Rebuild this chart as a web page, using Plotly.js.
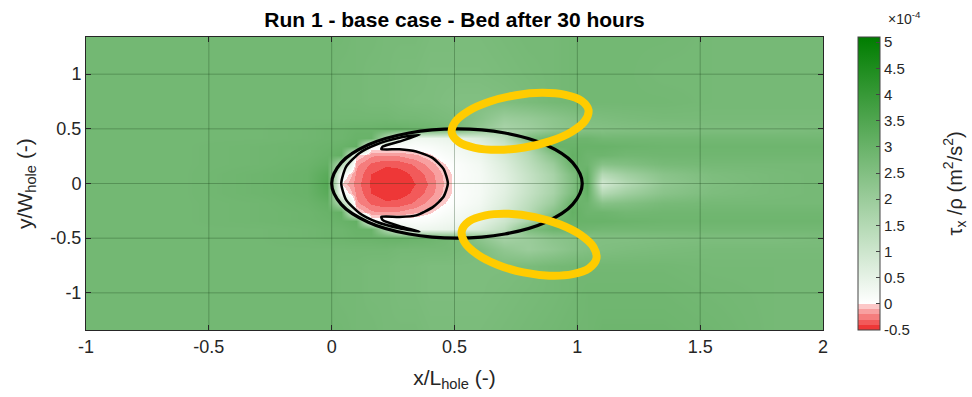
<!DOCTYPE html>
<html>
<head>
<meta charset="utf-8">
<script src="https://cdn.plot.ly/plotly-3.0.1.min.js"></script>
<style>html,body{margin:0;padding:0;background:#fff;}#chart{width:972px;height:397px;}</style>
</head>
<body>
<div id="chart"></div>
<script>
// ---- grid coordinates (x/L_hole, y/W_hole) ----
const xCoords = [-1, -0.6, -0.3, -0.1, -0.02, 0.04, 0.1, 0.16, 0.22, 0.28, 0.34, 0.4, 0.46, 0.52, 0.6, 0.7, 0.8, 0.9, 0.98, 1.04, 1.1, 1.2, 1.35, 1.55, 1.8, 2.0];
const yCoords = [-1.35, -1.0, -0.75, -0.6, -0.5, -0.42, -0.34, -0.26, -0.18, -0.09, 0, 0.09, 0.18, 0.26, 0.34, 0.42, 0.5, 0.6, 0.75, 1.0, 1.35];

// ---- tau_x / rho in units of 1e-4 m^2/s^2 (rows follow yCoords) ----
const tauX = [
  [2.8, 2.8, 2.8, 2.8, 2.8, 2.8, 2.75, 2.75, 2.7, 2.7, 2.7, 2.65, 2.65, 2.65, 2.65, 2.7, 2.75, 2.8, 2.85, 2.85, 2.9, 2.9, 2.9, 2.85, 2.75, 2.75],
  [2.8, 2.8, 2.8, 2.8, 2.8, 2.75, 2.75, 2.7, 2.7, 2.65, 2.65, 2.6, 2.6, 2.6, 2.6, 2.65, 2.7, 2.75, 2.8, 2.85, 2.85, 2.85, 2.85, 2.8, 2.75, 2.75],
  [2.8, 2.8, 2.8, 2.8, 2.8, 2.75, 2.75, 2.7, 2.7, 2.65, 2.65, 2.6, 2.6, 2.6, 2.6, 2.6, 2.65, 2.75, 2.8, 2.8, 2.8, 2.8, 2.8, 2.75, 2.75, 2.75],
  [2.8, 2.8, 2.8, 2.8, 2.8, 2.8, 2.8, 2.8, 2.8, 2.75, 2.75, 2.75, 2.75, 2.7, 2.6, 2.2, 2.0, 2.2, 2.4, 2.5, 2.55, 2.6, 2.65, 2.7, 2.7, 2.7],
  [2.8, 2.8, 2.8, 2.85, 2.9, 2.9, 2.95, 2.95, 3.0, 3.0, 2.95, 2.9, 2.8, 2.7, 2.3, 1.8, 2.0, 2.3, 2.4, 2.45, 2.5, 2.5, 2.55, 2.6, 2.6, 2.65],
  [2.8, 2.8, 2.8, 2.85, 2.9, 2.9, 3.0, 3.0, 1.6, 0.5, 0.3, 0.35, 0.4, 0.5, 0.75, 1.3, 2.6, 2.9, 2.9, 2.85, 2.8, 2.8, 2.8, 2.8, 2.8, 2.8],
  [2.8, 2.8, 2.85, 2.9, 2.95, 3.0, 3.1, 0.1, 0.12, 0.1, 0.1, 0.15, 0.25, 0.3, 0.5, 1.0, 1.7, 3.0, 3.0, 3.0, 3.0, 2.95, 2.9, 2.9, 2.9, 2.9],
  [2.8, 2.8, 2.85, 2.9, 3.0, 3.1, 0.02, -0.18, -0.2, -0.18, -0.12, -0.02, 0.12, 0.2, 0.35, 0.85, 1.45, 2.4, 3.1, 2.9, 2.9, 2.8, 2.85, 2.85, 2.85, 2.85],
  [2.8, 2.8, 2.85, 2.95, 3.1, 1.5, -0.17, -0.32, -0.38, -0.36, -0.28, -0.15, 0.0, 0.1, 0.25, 0.7, 1.3, 2.0, 3.0, 2.9, 2.4, 2.5, 2.7, 2.75, 2.75, 2.75],
  [2.8, 2.8, 2.9, 3.0, 3.3, 0.2, -0.22, -0.4, -0.47, -0.45, -0.37, -0.25, -0.06, 0.08, 0.2, 0.6, 1.15, 1.75, 2.6, 3.1, 1.5, 1.9, 2.35, 2.6, 2.7, 2.75],
  [2.8, 2.8, 2.9, 3.0, 3.4, 0.0, -0.25, -0.42, -0.5, -0.48, -0.4, -0.28, -0.08, 0.1, 0.2, 0.55, 1.1, 1.7, 2.5, 3.2, 0.9, 1.5, 2.2, 2.55, 2.7, 2.75],
  [2.8, 2.8, 2.9, 3.0, 3.3, 0.2, -0.22, -0.4, -0.47, -0.45, -0.37, -0.25, -0.06, 0.08, 0.2, 0.6, 1.15, 1.75, 2.6, 3.1, 1.5, 1.9, 2.35, 2.6, 2.7, 2.75],
  [2.8, 2.8, 2.85, 2.95, 3.1, 1.5, -0.17, -0.32, -0.38, -0.36, -0.28, -0.15, 0.0, 0.1, 0.25, 0.7, 1.3, 2.0, 3.0, 2.9, 2.4, 2.5, 2.7, 2.75, 2.75, 2.75],
  [2.8, 2.8, 2.85, 2.9, 3.0, 3.1, 0.02, -0.18, -0.2, -0.18, -0.12, -0.02, 0.12, 0.2, 0.35, 0.85, 1.45, 2.4, 3.1, 2.9, 2.9, 2.8, 2.85, 2.85, 2.85, 2.85],
  [2.8, 2.8, 2.85, 2.9, 2.95, 3.0, 3.1, 0.1, 0.12, 0.1, 0.1, 0.15, 0.25, 0.3, 0.5, 1.0, 1.7, 3.0, 3.0, 3.0, 3.0, 2.95, 2.9, 2.9, 2.9, 2.9],
  [2.8, 2.8, 2.8, 2.85, 2.9, 2.9, 3.0, 3.0, 1.6, 0.5, 0.3, 0.35, 0.4, 0.5, 0.75, 1.3, 2.6, 2.9, 2.9, 2.9, 2.8, 2.8, 2.8, 2.8, 2.8, 2.8],
  [2.8, 2.8, 2.8, 2.85, 2.9, 2.9, 2.95, 2.95, 3.0, 3.0, 2.95, 2.9, 2.8, 2.7, 2.2, 1.7, 1.9, 2.2, 2.35, 2.45, 2.45, 2.5, 2.55, 2.6, 2.6, 2.65],
  [2.8, 2.8, 2.8, 2.8, 2.8, 2.8, 2.8, 2.8, 2.8, 2.75, 2.75, 2.7, 2.65, 2.6, 2.4, 2.0, 2.1, 2.3, 2.45, 2.55, 2.6, 2.65, 2.7, 2.7, 2.7, 2.7],
  [2.8, 2.8, 2.8, 2.8, 2.8, 2.75, 2.75, 2.7, 2.7, 2.65, 2.6, 2.6, 2.55, 2.5, 2.5, 2.55, 2.65, 2.75, 2.8, 2.8, 2.8, 2.8, 2.8, 2.75, 2.75, 2.75],
  [2.8, 2.8, 2.8, 2.8, 2.8, 2.75, 2.75, 2.7, 2.7, 2.65, 2.65, 2.6, 2.6, 2.6, 2.6, 2.65, 2.7, 2.75, 2.8, 2.8, 2.8, 2.8, 2.75, 2.75, 2.75, 2.75],
  [2.8, 2.8, 2.8, 2.8, 2.8, 2.8, 2.75, 2.75, 2.7, 2.7, 2.7, 2.65, 2.65, 2.65, 2.65, 2.7, 2.75, 2.75, 2.8, 2.8, 2.8, 2.8, 2.8, 2.75, 2.75, 2.75]
];

// ---- hole outline (bed contour) ----
const holeX = [1.02, 0.981, 0.871, 0.705, 0.51, 0.315, 0.149, 0.039, 0.0, 0.039, 0.149, 0.315, 0.51, 0.705, 0.871, 0.981, 1.02];
const holeY = [0, 0.191, 0.354, 0.462, 0.5, 0.462, 0.354, 0.191, 0, -0.191, -0.354, -0.462, -0.5, -0.462, -0.354, -0.191, 0];

// ---- zero contour of tau_x ----
const zeroX = [0.358, 0.276, 0.182, 0.114, 0.059, 0.039, 0.059, 0.114, 0.182, 0.276, 0.358, 0.276, 0.208, 0.202, 0.276, 0.344, 0.412, 0.456, 0.473, 0.456, 0.412, 0.344, 0.276, 0.202, 0.208, 0.276, 0.358];
const zeroY = [0.445, 0.418, 0.357, 0.280, 0.155, 0.0, -0.150, -0.272, -0.350, -0.410, -0.440, -0.390, -0.335, -0.305, -0.307, -0.292, -0.216, -0.119, 0.0, 0.132, 0.232, 0.293, 0.314, 0.314, 0.338, 0.384, 0.445];

// ---- highlighted regions (yellow rings) ----
const ringUpX = [1.0455, 1.0310, 0.9764, 0.8899, 0.7847, 0.6769, 0.5828, 0.5166, 0.4887, 0.5032, 0.5578, 0.6443, 0.7495, 0.8573, 0.9514, 1.0176, 1.0455];
const ringUpY = [0.6721, 0.5728, 0.4728, 0.3874, 0.3297, 0.3082, 0.3264, 0.3816, 0.4651, 0.5644, 0.6644, 0.7498, 0.8075, 0.8290, 0.8108, 0.7556, 0.6721];
const ringLoX = [1.0776, 1.0479, 0.9809, 0.8869, 0.7803, 0.6773, 0.5935, 0.5417, 0.5298, 0.5595, 0.6265, 0.7205, 0.8271, 0.9301, 1.0139, 1.0657, 1.0776];
const ringLoY = [-0.6876, -0.7748, -0.8294, -0.8430, -0.8136, -0.7456, -0.6494, -0.5396, -0.4330, -0.3458, -0.2912, -0.2776, -0.3070, -0.3750, -0.4712, -0.5810, -0.6876];

// ---- ticks ----
const xTicks = [-1, -0.5, 0, 0.5, 1, 1.5, 2];
const xTickText = ['-1', '-0.5', '0', '0.5', '1', '1.5', '2'];
const yTicks = [-1, -0.5, 0, 0.5, 1];
const yTickText = ['-1', '-0.5', '0', '0.5', '1'];
const cbTicks = [-0.5, 0, 0.5, 1, 1.5, 2, 2.5, 3, 3.5, 4, 4.5, 5];
const cbTickText = ['-0.5', '0', '0.5', '1', '1.5', '2', '2.5', '3', '3.5', '4', '4.5', '5'];
const xRange = [-1, 2];
const yRange = [-1.34, 1.34];
const zRange = [-0.5, 5.1];

const colorScale = [
  [0, 'rgb(238,55,55)'], [0.01786, 'rgb(238,55,55)'],
  [0.01786, 'rgb(242,90,90)'], [0.03571, 'rgb(242,90,90)'],
  [0.03571, 'rgb(245,125,125)'], [0.05357, 'rgb(245,125,125)'],
  [0.05357, 'rgb(248,160,160)'], [0.07143, 'rgb(248,160,160)'],
  [0.07143, 'rgb(252,200,200)'], [0.08929, 'rgb(252,200,200)'],
  [0.08929, 'rgb(255,255,255)'], [1, 'rgb(0,125,0)']
];

const FONT = 'Liberation Sans, Arial, Helvetica, sans-serif';

// grid lines drawn above the field (from tick arrays)
const gx = [], gy = [];
xTicks.slice(1, -1).forEach(v => { gx.push(v, v, null); gy.push(yRange[0], yRange[1], null); });
yTicks.forEach(v => { gx.push(xRange[0], xRange[1], null); gy.push(v, v, null); });

const traces = [
  {
    type: 'heatmap', x: xCoords, y: yCoords, z: tauX, zsmooth: 'best',
    colorscale: colorScale, zmin: zRange[0], zmax: zRange[1],
    colorbar: {
      x: 1.0475, xanchor: 'left', y: 0.5, yanchor: 'middle',
      len: 1, lenmode: 'fraction', thickness: 22, thicknessmode: 'pixels',
      xpad: 0, ypad: 0, outlinewidth: 1, outlinecolor: '#444',
      tickmode: 'array', tickvals: cbTicks, ticktext: cbTickText,
      ticks: 'inside', ticklen: 4, tickcolor: '#444',
      tickfont: {family: FONT, size: 15, color: '#262626'}
    },
    hoverinfo: 'skip'
  },
  {type: 'scatter', mode: 'lines', x: gx, y: gy, line: {color: 'rgba(20,60,20,0.3)', width: 1}, hoverinfo: 'skip', showlegend: false},
  {type: 'scatter', mode: 'lines', x: holeX, y: holeY, line: {color: '#000', width: 3.2, shape: 'spline', smoothing: 1}, showlegend: false},
  {type: 'scatter', mode: 'lines', x: zeroX, y: zeroY, line: {color: '#000', width: 2.5, shape: 'spline', smoothing: 0.6}, showlegend: false},
  {type: 'scatter', mode: 'lines', x: ringUpX, y: ringUpY, line: {color: 'rgb(255,204,0)', width: 8, shape: 'spline', smoothing: 1}, showlegend: false},
  {type: 'scatter', mode: 'lines', x: ringLoX, y: ringLoY, line: {color: 'rgb(255,204,0)', width: 8, shape: 'spline', smoothing: 1}, showlegend: false}
];

const axisCommon = {
  showgrid: false, zeroline: false, showline: true, linecolor: '#262626', linewidth: 1,
  mirror: 'ticks', ticks: 'inside', ticklen: 5, tickcolor: '#262626', layer: 'above traces',
  tickfont: {family: FONT, size: 18, color: '#262626'}, fixedrange: true
};

const layout = {
  width: 972, height: 397,
  margin: {l: 86, r: 149, t: 37, b: 67},
  paper_bgcolor: '#fff', plot_bgcolor: '#fff',
  showlegend: false,
  font: {family: FONT, color: '#262626'},
  title: {
    text: '<b>Run 1 - base case - Bed after 30 hours</b>',
    font: {family: FONT, size: 21, color: '#000'},
    x: 0.5, xanchor: 'center', xref: 'paper',
    y: 0.95, yanchor: 'middle', yref: 'container'
  },
  xaxis: Object.assign({}, axisCommon, {
    range: xRange, tickmode: 'array', tickvals: xTicks, ticktext: xTickText,
    title: {text: 'x/L<sub>hole</sub> (-)', font: {family: FONT, size: 21, color: '#262626'}, standoff: 14}
  }),
  yaxis: Object.assign({}, axisCommon, {
    range: yRange, tickmode: 'array', tickvals: yTicks, ticktext: yTickText,
    title: {text: 'y/W<sub>hole</sub> (-)', font: {family: FONT, size: 21, color: '#262626'}, standoff: 12}
  }),
  annotations: [
    {xref: 'paper', yref: 'paper', x: 1.111, y: 1.065, text: '\u00d710<sup>-4</sup>', showarrow: false,
     font: {family: FONT, size: 14, color: '#262626'}, xanchor: 'center', yanchor: 'middle'},
    {xref: 'paper', yref: 'paper', x: 1.179, y: 0.5, textangle: -90,
     text: '\u03c4<sub>x</sub> /\u03c1 (m<sup>2</sup>/s<sup>2</sup>)', showarrow: false,
     font: {family: FONT, size: 20, color: '#262626'}, xanchor: 'center', yanchor: 'middle'}
  ]
};

Plotly.newPlot('chart', traces, layout, {staticPlot: true, displayModeBar: false});
</script>
</body>
</html>
